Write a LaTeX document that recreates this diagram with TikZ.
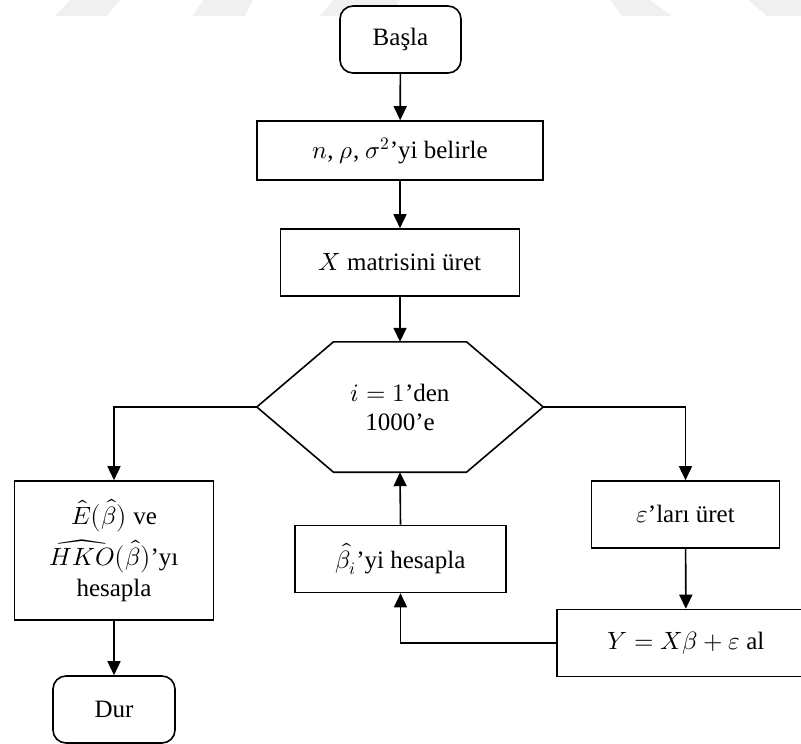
\documentclass[tikz,border=0pt]{standalone}
\usepackage{fontspec}
\usepackage{unicode-math}
\setmainfont{Liberation Serif}
\usetikzlibrary{arrows.meta}

\begin{document}
\begin{tikzpicture}[x=1pt, y=1pt,
    font=\fontsize{25}{29}\selectfont,
    proc/.style = {draw, line width=1.6pt, align=center, inner sep=0pt},
    term/.style = {proc, rounded corners=13pt},
    arr/.style = {line width=1.6pt, -{Triangle[length=14pt, width=13pt]}}]
    \useasboundingbox (0,0) rectangle (801,-744);
    % faint background marks
    \foreach \a/\b/\c/\d in {70/120/107/55, 203/253/245/193, 333/400/390/320, 610/650/672/622, 748/801/801/767}
        \fill[black!6] (\a,0) -- (\b,0) -- (\c,-16) -- (\d,-16) -- cycle;

    \node[term, minimum width=121pt, minimum height=67pt, fill=white] (basla) at (400.5,-39.5) {Başla};
    \node[proc, minimum width=286pt, minimum height=59pt] (belirle) at (400,-150.5) {$n$, $\rho$, $\sigma^2$’yi belirle};
    \node[proc, minimum width=239pt, minimum height=67pt] (matris) at (400,-262.5) {$X$ matrisini üret};
    \node[minimum width=286pt, minimum height=130pt, inner sep=0pt, align=center] (dongu) at (400,-407) {$i=1$’den\\1000’e};
    \draw[line width=1.6pt] (dongu.west) -- ([xshift=76.7pt]dongu.north west) -- ([xshift=-76.7pt]dongu.north east)
        -- (dongu.east) -- ([xshift=-76.7pt]dongu.south east) -- ([xshift=76.7pt]dongu.south west) -- cycle;
    \node[proc, minimum width=199pt, minimum height=139pt] (hesap) at (114,-550.5) {$\hat{E}\big(\hat{\beta}\big)$ ve\\[6pt]$\widehat{HKO}\big(\hat{\beta}\big)$’yı\\[2pt]hesapla};
    \node[term, minimum width=122pt, minimum height=67pt] (dur) at (114,-709.5) {Dur};
    \node[proc, minimum width=188pt, minimum height=67pt] (uret) at (685.5,-514.5) {$\varepsilon$’ları üret};
    \node[proc, minimum width=258pt, minimum height=67pt] (yal) at (686,-643) {$Y = X\beta + \varepsilon$ al};
    \node[proc, minimum width=211pt, minimum height=67pt] (bhesap) at (400.5,-559) {$\hat{\beta}_i$’yi hesapla};

    \draw[arr] (basla) -- (belirle);
    \draw[arr] (belirle) -- (matris);
    \draw[arr] (matris) -- (dongu.north);
    \draw[arr] (dongu.west) -| (hesap.north);
    \draw[arr] (dongu.east) -| (uret.north);
    \draw[arr] (uret) -- (yal);
    \draw[arr] (yal.west) -| (bhesap.south);
    \draw[arr] (bhesap.north) -- (dongu.south);
    \draw[arr] (hesap) -- (dur);
\end{tikzpicture}
\end{document}
